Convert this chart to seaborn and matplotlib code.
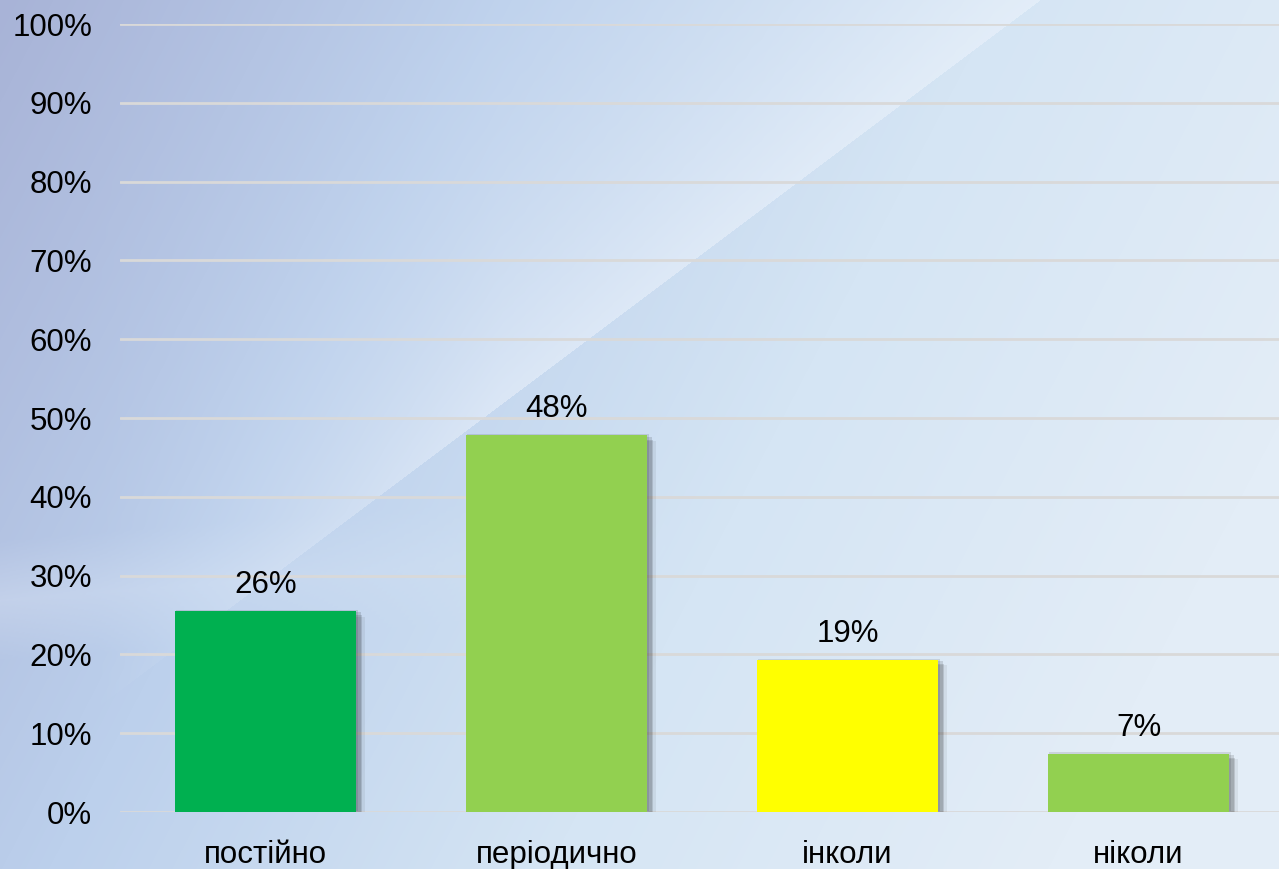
import numpy as np
import pandas as pd
import matplotlib
matplotlib.use("Agg")
import matplotlib.pyplot as plt
import matplotlib.patheffects as pe
from matplotlib.colors import LinearSegmentedColormap
from matplotlib.ticker import PercentFormatter
import seaborn as sns

# ---- data ----
categories = ["постійно", "періодично", "інколи", "ніколи"]
shares = [25.5, 47.8, 19.3, 7.4]
value_labels = ["26%", "48%", "19%", "7%"]
bar_colors = ["#00B050", "#92D050", "#FFFF00", "#92D050"]

df = pd.DataFrame({"category": categories, "share": shares})

sns.set_theme(style="white")
plt.rcParams["font.family"] = ["Liberation Sans", "DejaVu Sans"]

fig = plt.figure(figsize=(12.79, 8.69), dpi=100)

# background: blue-ish gradient with a soft lighter diagonal streak
bg = fig.add_axes([0, 0, 1, 1], zorder=0)
h, w = 869, 1279
yy, xx = np.mgrid[0:h, 0:w]
t = np.clip(xx / w * 0.85 + yy / h * 0.3, 0, 1)
cmap = LinearSegmentedColormap.from_list("bg", ["#A8B3D7", "#BCD0EC", "#D5E5F4", "#E3EDF7"])
img = cmap(t)[..., :3]
# distance (px) above the diagonal edge running from (1040,0) down-left
line_y = 330 - (xx - 600) * (330 / 440)
d = line_y - yy
streak = np.where(d > 0, np.exp(-d / 200), 0) * np.clip((xx - 100) / 400, 0, 1)
light = np.array([0.94, 0.96, 0.99])
img = img * (1 - 0.5 * streak[..., None]) + light * 0.5 * streak[..., None]
# faint light bands across the lower-left
band = np.clip(1 - np.abs(yy - 600 + xx * 0.08) / 60, 0, 1) * np.clip(1 - xx / 700, 0, 1)
img = img * (1 - 0.25 * band[..., None]) + light * 0.25 * band[..., None]
bg.imshow(img, aspect="auto", extent=[0, 1, 0, 1])
bg.axis("off")

ax = fig.add_axes([120 / 1279, 1 - 812 / 869, 1164 / 1279, (812 - 24) / 869], zorder=1)
ax.patch.set_alpha(0)

sns.barplot(data=df, x="category", y="share", hue="category", palette=bar_colors,
            legend=False, width=0.625, saturation=1, ax=ax, zorder=3)

# soft drop shadow built from a few stacked offsets
shadow = [pe.SimplePatchShadow(offset=(1, 1), shadow_rgbFace="#000000", alpha=0.10),
          pe.SimplePatchShadow(offset=(3, -1), shadow_rgbFace="#000000", alpha=0.12),
          pe.SimplePatchShadow(offset=(4, -3), shadow_rgbFace="#000000", alpha=0.12),
          pe.SimplePatchShadow(offset=(6, -4), shadow_rgbFace="#000000", alpha=0.06),
          pe.Normal()]
for bar in ax.patches:
    bar.set_path_effects(shadow)
    bar.set_edgecolor("none")

for i, (v, lab) in enumerate(zip(shares, value_labels)):
    ax.annotate(lab, (i, v), xytext=(0, 8), textcoords="offset points",
                ha="center", va="bottom", fontsize=22.5, color="black")

ax.set_ylim(0, 100)
ax.set_xlim(-0.5, 3.5)
ax.set_yticks(range(0, 101, 10))
ax.yaxis.set_major_formatter(PercentFormatter(decimals=0))
ax.grid(axis="y", color="#D9D9D9", linewidth=2, zorder=0)
ax.set_axisbelow(True)
for s in ax.spines.values():
    s.set_visible(False)
ax.tick_params(axis="y", labelsize=22.5, pad=20, length=0, colors="black")
ax.tick_params(axis="x", labelsize=22.5, pad=20, length=0, colors="black")
ax.set_xlabel("")
ax.set_ylabel("")

fig.savefig("out.png", dpi=100)
